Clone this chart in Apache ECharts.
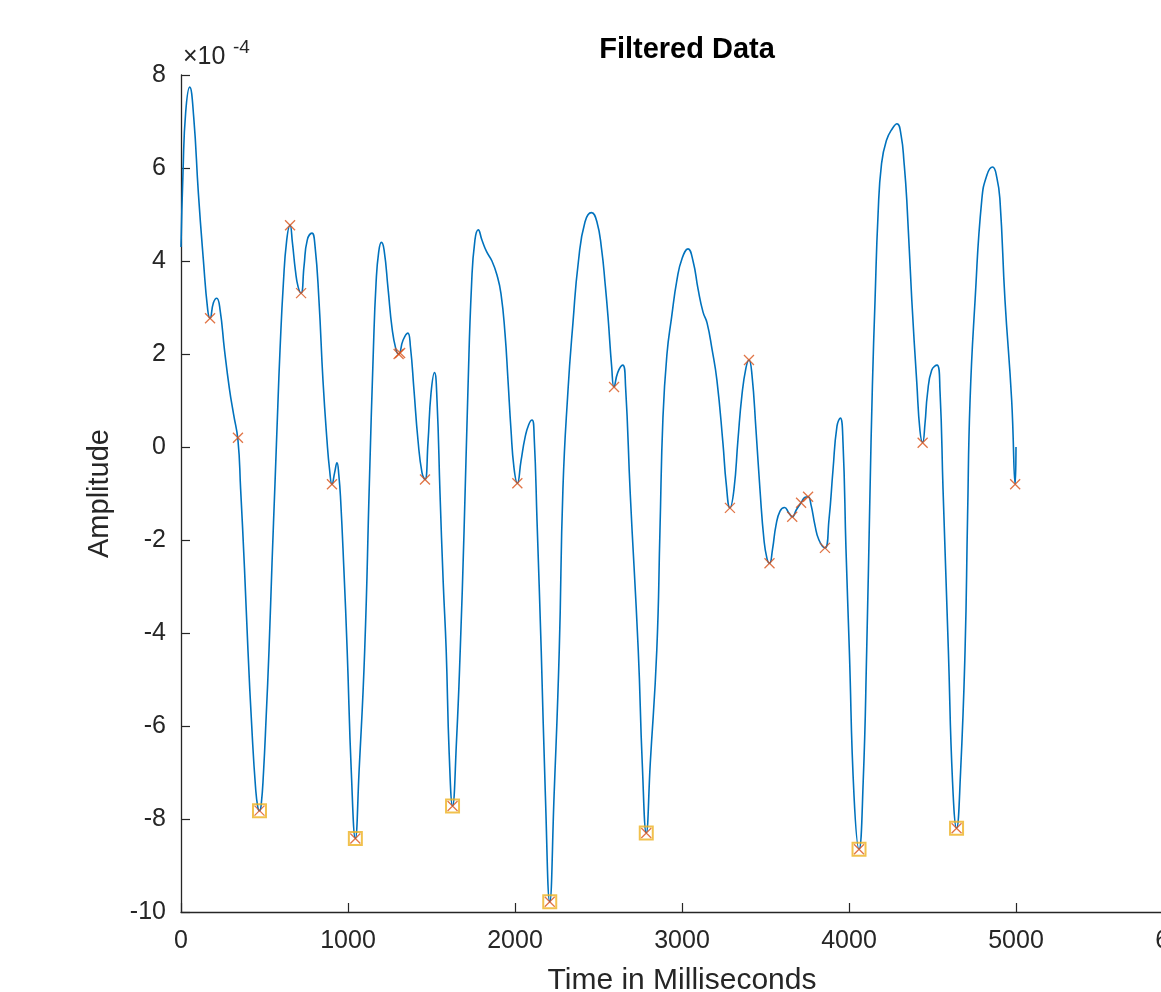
<!DOCTYPE html>
<html><head><meta charset="utf-8">
<script src="https://cdn.jsdelivr.net/npm/echarts@6/dist/echarts.min.js"></script>
<style>html,body{margin:0;padding:0;background:#fff}#c{width:1161px;height:992px}</style>
</head><body><div id="c"></div>
<script>
// Time (ms) and filtered amplitude (in units of 1e-4)
const timeMs = [0,12,28,52,76,104,134,160,174,194,214,234,260,290,315,341,357,380,401,425,446,460,470,480,494,510,527,545,563,580,593,613,633,653,667,685,701,719,737,756,784,802,826,850,874,890,904,920,934,945,956,975,995,1020,1044,1066,1100,1128,1152,1168,1184,1200,1216,1240,1264,1287,1303,1330,1358,1374,1395,1419,1443,1461,1479,1497,1518,1533,1551,1570,1588,1606,1626,1650,1672,1695,1718,1740,1760,1780,1802,1830,1862,1892,1916,1940,1958,1976,1994,2014,2036,2060,2082,2102,2115,2132,2157,2182,2208,2234,2265,2287,2317,2347,2380,2419,2458,2490,2519,2540,2557,2579,2593,2615,2645,2662,2690,2738,2762,2786,2810,2849,2868,2886,2910,2938,2970,3000,3036,3066,3096,3126,3150,3180,3209,3245,3265,3287,3311,3335,3359,3383,3401,3419,3443,3467,3491,3509,3524,3542,3563,3587,3614,3640,3660,3685,3713,3737,3755,3773,3796,3820,3856,3880,3904,3928,3948,3964,3982,4002,4030,4060,4085,4106,4125,4140,4156,4174,4195,4225,4260,4288,4312,4330,4346,4376,4406,4425,4441,4455,4470,4495,4527,4545,4563,4595,4620,4644,4668,4695,4710,4725,4755,4795,4826,4860,4885,4904,4934,4974,4995,5000];
const amplitude = [4.3,5.9,7.2,7.74,7.1,5.46,4.02,2.95,2.77,3.1,3.2,2.95,2.1,1.25,0.7,0.15,-0.9,-2.6,-4.37,-6.1,-7.3,-7.75,-7.82,-7.7,-7.0,-5.8,-4.37,-2.5,-0.77,0.9,2.09,3.52,4.45,4.77,4.4,3.8,3.45,3.31,3.9,4.45,4.6,4.34,3.16,1.44,0.15,-0.5,-0.8,-0.55,-0.34,-0.6,-1.14,-2.6,-4.37,-7.0,-8.42,-7.0,-4.37,-0.77,2.09,3.52,4.2,4.4,4.24,3.4,2.55,2.1,2.0,2.3,2.45,2.15,1.23,0.15,-0.55,-0.7,0.1,1.15,1.6,1.0,-1.0,-2.9,-4.37,-6.6,-7.72,-6.3,-4.37,-1.8,1.2,3.5,4.45,4.67,4.45,4.2,4.0,3.7,3.3,2.45,1.44,0.37,-0.45,-0.78,-0.3,0.2,0.48,0.58,0.2,-1.6,-4.37,-7.5,-9.78,-7.5,-4.37,-0.9,1.2,2.67,4.0,4.84,5.04,4.85,4.24,3.5,2.8,1.72,1.29,1.6,1.76,1.3,-1.0,-4.37,-6.8,-8.3,-6.8,-4.37,-1.8,0.64,2.0,2.8,3.6,4.05,4.26,4.0,3.4,2.9,2.67,2.1,1.44,0.09,-0.8,-1.31,-0.92,0.15,1.12,1.7,1.87,1.55,0.37,-0.92,-2.0,-2.4,-2.5,-2.2,-1.68,-1.38,-1.3,-1.42,-1.5,-1.35,-1.2,-1.08,-1.07,-1.25,-1.68,-2.0,-2.17,-1.57,-0.5,0.45,0.62,0.1,-2.2,-4.37,-7.5,-8.65,-7.2,-4.37,-1.1,1.3,3.16,5.0,6.1,6.6,6.85,6.95,6.7,6.1,5.31,3.16,1.38,0.35,0.1,0.5,1.15,1.65,1.76,1.2,-0.9,-4.37,-7.2,-8.2,-7.0,-4.37,-1.5,1.01,3.16,5.31,5.85,6.02,5.8,5.31,3.16,1.01,-0.8,0.0];
// Detected extrema (red crosses)
const markTimes = [174,341,470,653,719,904,1044,1303,1312,1461,1626,2014,2208,2593,2786,3287,3401,3524,3660,3713,3755,3856,4060,4441,4644,4995];
const markAmps  = [2.77,0.2,-7.82,4.77,3.31,-0.8,-8.42,2.0,2.02,-0.7,-7.72,-0.78,-9.78,1.29,-8.3,-1.31,1.87,-2.5,-1.5,-1.2,-1.07,-2.17,-8.65,0.09,-8.2,-0.8];
// Deep minima (yellow squares)
const minTimes = [470,1044,1626,2208,2786,4060,4644];
const minAmps  = [-7.82,-8.42,-7.72,-9.78,-8.3,-8.65,-8.2];
// Axis ticks
const xTicks = [0,1000,2000,3000,4000,5000,6000];
const yTicks = [-10,-8,-6,-4,-2,0,2,4,6,8];

const zip = (a,b) => a.map((v,i)=>[v,b[i]]);
const txt = '#262626';
const ff = '"Liberation Sans", Arial, Helvetica, sans-serif';
const chart = echarts.init(document.getElementById('c'), null, {renderer:'canvas'});
chart.setOption({
  animation:false,
  backgroundColor:'#fff',
  title:{text:'Filtered Data', left:682, top:30, textAlign:'center',
    textStyle:{fontFamily:ff, fontSize:29, fontWeight:'bold', color:'#000'}},
  grid:{left:181, top:75, width:1002, height:837, outerBoundsMode:'none'},
  xAxis:{type:'value', min:xTicks[0], max:xTicks[xTicks.length-1], interval:xTicks[1]-xTicks[0],
    name:'Time in Milliseconds', nameLocation:'middle', nameGap:54,
    nameTextStyle:{fontFamily:ff, fontSize:30, color:txt},
    axisLine:{show:true, onZero:false, lineStyle:{color:txt, width:1.3}},
    axisTick:{show:true, inside:true, length:9, lineStyle:{color:txt, width:1.2}},
    axisLabel:{fontFamily:ff, fontSize:25, color:txt, margin:17, formatter:v=>String(v)},
    splitLine:{show:false}},
  yAxis:{type:'value', min:yTicks[0], max:yTicks[yTicks.length-1], interval:yTicks[1]-yTicks[0],
    name:'Amplitude', nameLocation:'middle', nameGap:67, nameRotate:90,
    nameTextStyle:{fontFamily:ff, fontSize:29, color:txt},
    axisLine:{show:true, onZero:false, lineStyle:{color:txt, width:1.3}},
    axisTick:{show:true, inside:true, length:9, lineStyle:{color:txt, width:1.2}},
    axisLabel:{fontFamily:ff, fontSize:25, color:txt, margin:15, formatter:v=>String(v)},
    splitLine:{show:false}},
  graphic:[
    {type:'text', left:183, top:45, style:{text:'×10', font:'25px '+ff, fill:txt}},
    {type:'text', left:233, top:38, style:{text:'-4', font:'19px '+ff, fill:txt}}
  ],
  series:[
    {type:'line', data:zip(timeMs,amplitude), showSymbol:false, smooth:0.5,
     lineStyle:{color:'#0072BD', width:1.6}, z:2},
    {type:'scatter', data:zip(markTimes,markAmps), symbol:'path://M0 0L10 10M10 0L0 10', symbolSize:10,
     itemStyle:{color:'rgba(0,0,0,0)', borderColor:'#D95319', borderWidth:1.3}, z:3},
    {type:'scatter', data:zip(minTimes,minAmps), symbol:'rect', symbolSize:13,
     itemStyle:{color:'rgba(0,0,0,0)', borderColor:'#EDB120', borderWidth:2}, z:4}
  ]
});
</script></body></html>
